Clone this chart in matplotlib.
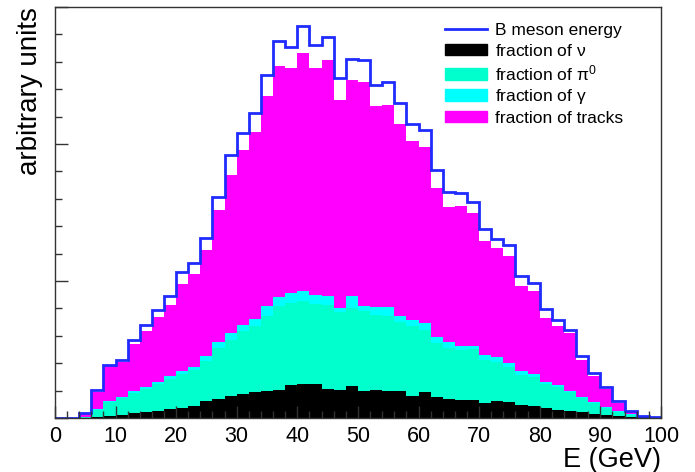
import numpy as np
import matplotlib
matplotlib.use('Agg')
import matplotlib.pyplot as plt
from matplotlib.lines import Line2D
from matplotlib.patches import Patch
from matplotlib.ticker import MultipleLocator, NullFormatter

plt.rcParams['font.family'] = ['Liberation Sans', 'DejaVu Sans']
plt.rcParams['mathtext.fontset'] = 'dejavusans'
plt.rcParams['mathtext.default'] = 'regular'

# 2 GeV bins, 0..100 GeV
edges = np.arange(0, 102, 2)

# total B meson energy (blue outline)
b_energy = [0, 0, 36, 202, 389, 426, 572, 676, 786, 888,
            1063, 1131, 1311, 1613, 1917, 2080, 2226, 2504, 2749, 2708,
            2859, 2720, 2779, 2482, 2620, 2615, 2431, 2455, 2297, 2146,
            2100, 1808, 1650, 1642, 1577, 1380, 1307, 1265, 1039, 985,
            796, 718, 645, 455, 328, 226, 122, 49, 17, 5]

# stacked levels as they appear (top of each coloured layer)
upto_tracks = [0, 0, 30, 187, 377, 406, 540, 637, 737, 827,
               980, 1053, 1229, 1516, 1776, 1954, 2085, 2353, 2567, 2557,
               2664, 2555, 2611, 2324, 2465, 2450, 2275, 2285, 2146, 2019,
               1976, 1679, 1540, 1550, 1496, 1290, 1241, 1180, 966, 925,
               730, 674, 620, 426, 309, 212, 109, 42, 14, 4]
upto_gamma = [0, 0, 10, 66, 127, 153, 195, 226, 263, 304,
              341, 370, 455, 555, 620, 681, 723, 815, 881, 912,
              929, 900, 890, 803, 888, 820, 810, 810, 742, 713,
              696, 591, 552, 528, 526, 460, 443, 401, 341, 319,
              265, 238, 195, 153, 114, 78, 49, 30, 12, 4]
upto_pi0 = [0, 0, 8, 56, 114, 144, 182, 214, 248, 285,
            321, 348, 414, 511, 572, 633, 674, 747, 820, 839,
            852, 834, 827, 774, 803, 779, 754, 747, 698, 669,
            645, 547, 511, 499, 506, 426, 406, 372, 316, 299,
            251, 226, 187, 144, 107, 71, 44, 25, 10, 3]
upto_nu = [0, 0, 3, 7, 17, 24, 36, 44, 54, 66,
           73, 85, 122, 141, 158, 175, 190, 200, 207, 243,
           248, 251, 212, 207, 231, 200, 207, 195, 200, 163,
           192, 151, 139, 129, 129, 109, 122, 114, 97, 85,
           73, 61, 54, 41, 32, 22, 15, 10, 5, 2]

c_tracks = '#ff00ff'
c_gamma = '#00ffff'
c_pi0 = '#00ffcc'
c_nu = '#000000'
c_blue = '#1f2bff'

fig = plt.figure(figsize=(6.95, 4.72), dpi=100)
ax = fig.add_axes([0.079, 0.1144, 0.872, 0.871])

ax.stairs(upto_tracks, edges, fill=True, color=c_tracks, lw=0)
ax.stairs(upto_gamma, edges, fill=True, color=c_gamma, lw=0)
ax.stairs(upto_pi0, edges, fill=True, color=c_pi0, lw=0)
ax.stairs(upto_nu, edges, fill=True, color=c_nu, lw=0)
ax.stairs(b_energy, edges, color=c_blue, lw=2)

ax.set_xlim(0, 100)
ax.set_ylim(0, 3000)

ax.xaxis.set_major_locator(MultipleLocator(10))
ax.xaxis.set_minor_locator(MultipleLocator(2))
ax.yaxis.set_major_locator(MultipleLocator(1000))
ax.yaxis.set_minor_locator(MultipleLocator(200))
ax.yaxis.set_major_formatter(NullFormatter())
ax.tick_params(which='both', direction='in', top=False, right=False, color='#333333')
ax.tick_params(which='major', length=9, width=1, labelsize=15.5, pad=6)
ax.tick_params(which='minor', length=5, width=1)
for s in ax.spines.values():
    s.set_linewidth(1.0)
    s.set_color('#333333')

ax.set_ylabel('arbitrary units', fontsize=20, loc='top')
ax.yaxis.set_label_coords(-0.02, 1.0)
ax.set_xlabel('E (GeV)', fontsize=19.5, loc='right')
ax.xaxis.set_label_coords(1.0, -0.07)

handles = [Line2D([], [], color=c_blue, lw=2),
           Patch(color=c_nu), Patch(color=c_pi0),
           Patch(color=c_gamma), Patch(color=c_tracks)]
labels = ['B meson energy', r'fraction of $\nu$', r'fraction of $\pi^0$',
          r'fraction of $\gamma$', 'fraction of tracks']
ax.legend(handles, labels, loc='upper left', bbox_to_anchor=(0.643, 0.96),
          frameon=False, fontsize=12.5, handlelength=2.45, handleheight=0.64,
          labelspacing=0.25, handletextpad=0.45, borderaxespad=0, borderpad=0)

fig.savefig('out.png', dpi=100)
